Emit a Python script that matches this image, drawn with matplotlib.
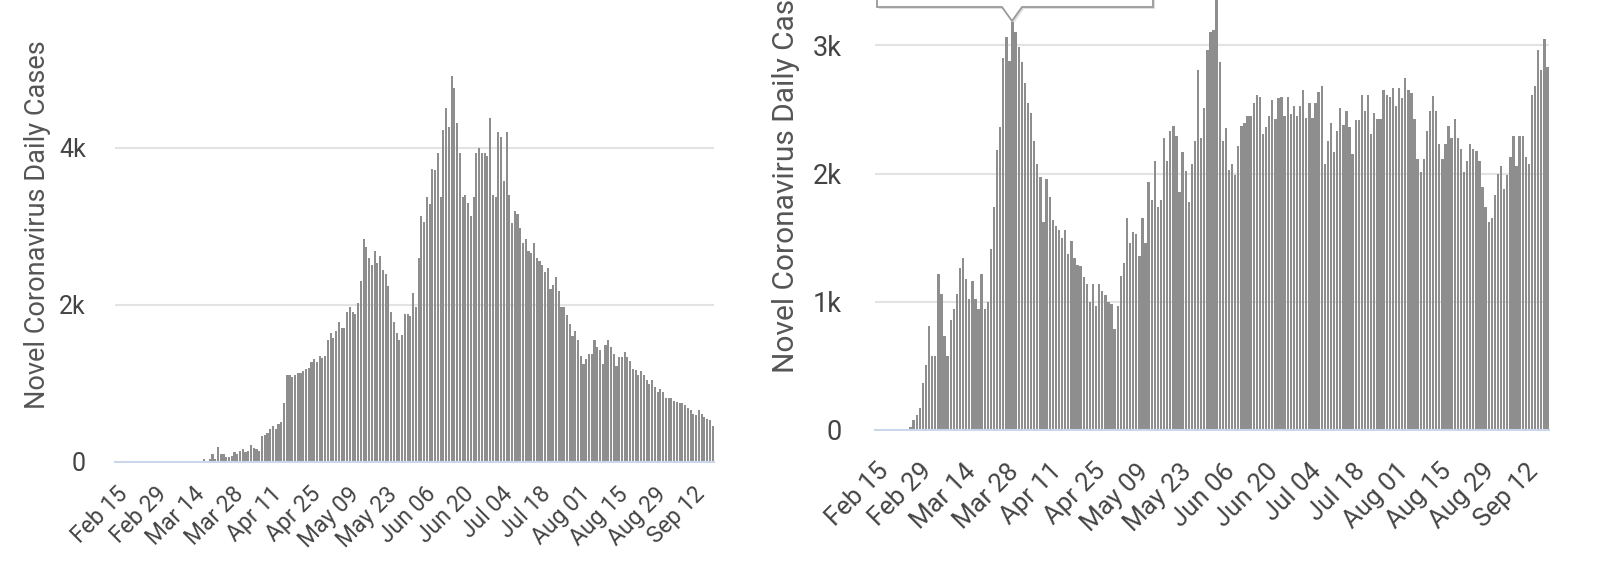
import matplotlib
matplotlib.use("Agg")
import matplotlib.pyplot as plt
import numpy as np
import pandas as pd
from matplotlib.patches import Polygon

plt.rcParams['font.family'] = ['Roboto', 'DejaVu Sans']

# ---------------- data ----------------
dates = pd.date_range("2020-02-15", periods=218, freq="D")
tick_every = 14
y_title = "Novel Coronavirus Daily Cases"

left_ticks = [0, 2000, 4000, 6000]
left_ticklabels = ["0", "2k", "4k", "6k"]
right_ticks = [0, 1000, 2000, 3000, 4000]
right_ticklabels = ["0", "1k", "2k", "3k", "4k"]

left_values = [0] * 32 + [
    35, 10, 30, 100, 30, 185, 100, 100, 65, 65,
    70, 120, 100, 130, 160, 120, 130, 210, 180, 160,
    130, 330, 335, 360, 420, 450, 420, 480, 510, 750,
    1100, 1110, 1080, 1110, 1130, 1130, 1160, 1175, 1200, 1270,
    1310, 1270, 1345, 1325, 1345, 1550, 1635, 1580, 1670, 1785,
    1700, 1700, 1905, 1965, 1905, 1880, 2020, 2300, 2835, 2735,
    2590, 2505, 2685, 2535, 2620, 2440, 2385, 2235, 1905, 1785,
    1635, 1550, 1615, 1880, 1880, 1860, 2150, 1965, 2590, 3135,
    3050, 3375, 3280, 3730, 3720, 3930, 3375, 4230, 4510, 4265,
    4915, 4755, 4320, 3930, 3375, 3400, 3300, 3135, 3375, 3930,
    3990, 3930, 3930, 3900, 4380, 3400, 3375, 4200, 4135, 3570,
    4200, 3400, 3040, 3190, 3155, 2975, 2790, 2835, 2685, 2660,
    2780, 2590, 2555, 2505, 2420, 2470, 2200, 2250, 2355, 2180,
    1965, 1965, 1870, 1755, 1600, 1670, 1550, 1345, 1250, 1310,
    1370, 1370, 1550, 1460, 1425, 1250, 1490, 1550, 1460, 1370,
    1220, 1340, 1340, 1395, 1340, 1280, 1180, 1165, 1100, 1160,
    1100, 1045, 985, 1040, 955, 890, 930, 890, 810, 810,
    810, 775, 760, 750, 750, 720, 690, 655, 610, 590,
    655, 610, 575, 545, 525, 455,
]

right_values = [0] * 10 + [
    10, 20, 80, 120, 170, 370, 510, 810, 575, 575,
    1220, 1060, 730, 575, 860, 940, 1060, 1265, 1340, 1180,
    1020, 1160, 1020, 940, 1220, 940, 1000, 1410, 1735, 2185,
    2365, 2900, 3065, 2880, 3180, 3105, 2990, 2870, 2705, 2550,
    2470, 2250, 2075, 1975, 1620, 1955, 1815, 1640, 1590, 1560,
    1495, 1560, 1370, 1475, 1345, 1285, 1275, 1190, 1140, 1000,
    1140, 965, 1140, 1085, 1050, 995, 985, 785, 965, 1200,
    1300, 1655, 1460, 1540, 1525, 1360, 1655, 1460, 1935, 1795,
    2095, 1735, 1795, 2275, 2095, 2330, 2370, 2290, 1855, 2170,
    2020, 1775, 2075, 2250, 2805, 2275, 2510, 2960, 3105, 3120,
    3500, 2870, 2250, 2355, 2030, 2075, 1990, 2215, 2370, 2390,
    2450, 2445, 2550, 2610, 2600, 2310, 2360, 2450, 2570, 2425,
    2585, 2595, 2450, 2600, 2465, 2525, 2450, 2525, 2650, 2435,
    2550, 2430, 2550, 2635, 2685, 2075, 2250, 2390, 2170, 2330,
    2510, 2375, 2490, 2365, 2150, 2420, 2415, 2610, 2490, 2610,
    2310, 2470, 2425, 2425, 2650, 2610, 2595, 2670, 2530, 2670,
    2585, 2745, 2650, 2625, 2425, 2115, 2015, 2110, 2330, 2490,
    2605, 2490, 2230, 2110, 2230, 2370, 2275, 2425, 2275, 2190,
    2015, 2095, 2230, 2190, 2175, 2095, 1895, 1735, 1620, 1655,
    1835, 2000, 2055, 1880, 1990, 2130, 2290, 2055, 2290, 2290,
    2130, 2075, 2610, 2685, 2960, 2805, 3045, 2830,
]

labels = [d.strftime("%b %d") for d in dates]

# ---------------- style ----------------
W, H = 1600, 562
BAR = "#8e8e8e"
GRID = "#e3e3e3"
AXIS = "#ccd6eb"
TXT = "#444444"
TITLE = "#555555"

fig = plt.figure(figsize=(W / 100, H / 100), dpi=100)
fig.patch.set_facecolor("white")


def fx(X):
    return X / W


def fy(Y):
    return 1 - Y / H


def make_panel(rect, values, ticks, ticklabels, ymax, fs_y, fs_x, pad_y, pad_x,
               title_fs, title_xy):
    ax = fig.add_axes(rect)
    x = np.arange(len(values))
    ax.bar(x, values, width=0.76, color=BAR, linewidth=0, zorder=3)
    ax.set_xlim(-0.5, len(values) - 0.5)
    ax.set_ylim(0, ymax)
    for s in ["top", "right", "left"]:
        ax.spines[s].set_visible(False)
    ax.spines["bottom"].set_color(AXIS)
    ax.spines["bottom"].set_linewidth(1.5)
    ax.spines["bottom"].set_zorder(4)
    ax.set_yticks(ticks)
    ax.set_yticklabels(ticklabels, fontsize=fs_y, color=TXT)
    for t in ticks[1:]:
        ax.axhline(t, color=GRID, linewidth=1.5, zorder=1)
    ax.tick_params(axis="y", length=0, pad=pad_y)
    xt = x[::tick_every]
    ax.set_xticks(xt)
    ax.set_xticklabels([labels[i] for i in xt], rotation=45, ha="right",
                       va="top", rotation_mode="anchor", fontsize=fs_x,
                       color=TXT)
    ax.tick_params(axis="x", length=0, pad=pad_x)
    ax.set_facecolor("none")
    fig.text(fx(title_xy[0]), fy(title_xy[1]), y_title, rotation=90,
             ha="center", va="center", fontsize=title_fs, color=TITLE)
    return ax


# left panel: 0 at y=461.7, 6k at y=-9.3
ax1 = make_panel([fx(115), fy(461.7), fx(714) - fx(115), (461.7 + 9.3) / H],
                 left_values, left_ticks, left_ticklabels, 6000,
                 fs_y=18, fs_x=16.5, pad_y=21, pad_x=15,
                 title_fs=19.5, title_xy=(38, 225))

# right panel: 0 at y=430, 4k at y=-83
ax2 = make_panel([fx(875), fy(430), fx(1549) - fx(875), (430 + 83) / H],
                 right_values, right_ticks, right_ticklabels, 4000,
                 fs_y=19.5, fs_x=18.5, pad_y=24, pad_x=21,
                 title_fs=21.5, title_xy=(786, 170))

# tooltip box (partially cut off at top of the image)
bx0, bx1, by = 877, 1153, 7
tip_x, tip_y, half = 1012, 21, 10
pts = [(bx0, -40), (bx1, -40), (bx1, by), (tip_x + half, by), (tip_x, tip_y),
       (tip_x - half, by), (bx0, by)]
shadow = Polygon([(fx(px + 2), fy(py + 2)) for px, py in pts], closed=True,
                 transform=fig.transFigure, facecolor="#000000", alpha=0.12,
                 edgecolor="none", zorder=9)
box = Polygon([(fx(px), fy(py)) for px, py in pts], closed=True,
              transform=fig.transFigure, facecolor="white", edgecolor="#9a9a9a",
              linewidth=1.3, zorder=10)
fig.add_artist(shadow)
fig.add_artist(box)

fig.savefig("out.png", dpi=100, facecolor="white")
